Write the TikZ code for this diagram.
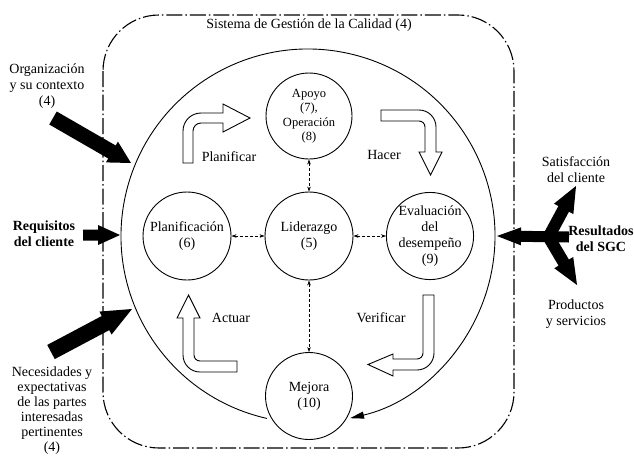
\documentclass[tikz,border=0pt]{standalone}
\usepackage{fontspec}
\setmainfont{Liberation Serif}
\usetikzlibrary{calc,arrows.meta}
\newcommand\blkarrow[5]{%
  \coordinate (hb) at ($(#2)!#5!(#1)$);
  \fill ($(#1)!#3!90:(#2)$) -- ($(hb)!#3!90:(#2)$) -- ($(hb)!#4!90:(#2)$) -- (#2)
     -- ($(hb)!#4!-90:(#2)$) -- ($(hb)!#3!-90:(#2)$) -- ($(#1)!#3!-90:(#2)$) -- cycle;}
\begin{document}
\begin{tikzpicture}[x=1pt,y=-1pt,
  lbl/.style={font=\fontsize{14}{16}\selectfont, align=center, inner sep=0pt},
  blbl/.style={font=\fontsize{14}{16}\selectfont\bfseries, align=center, inner sep=0pt},
  circ/.style={circle, draw, line width=0.9pt, minimum size=88pt, inner sep=0pt, align=center, font=\fontsize{14}{16}\selectfont},
  dlink/.style={line width=0.6pt, dash pattern=on 3pt off 2pt, {Stealth[length=5pt,width=3.5pt]}-{Stealth[length=5pt,width=3.5pt]}},
  hollow/.style={draw, fill=white, line width=0.9pt, line join=miter},
  dashdot/.style={line width=1.1pt, dash pattern=on 16pt off 3pt on 1.5pt off 3pt}]
\fill[white] (0,0) rectangle (634,458);
\useasboundingbox (0,0) rectangle (634,458);

% outer system boundary
\draw[dashdot, rounded corners=56pt] (103,15) rectangle (514,448);
\node[lbl] (sgc) at (309,25) {Sistema de Gestión de la Calidad (4)};

% circles
\node[circ] (plan) at (187,236) {Planificación\\(6)};
\node[circ] (lider) at (309,236) {Liderazgo\\(5)};
\node[circ, minimum size=87pt] (eval) at (430,236) {Evaluación\\del\\desempeño\\(9)};
\node[circ, minimum size=86pt, font=\fontsize{12.5}{14.5}\selectfont] (apoyo) at (309,116) {Apoyo\\(7),\\Operación\\(8)};
\node[circ, minimum size=87pt] (mejora) at (309,396) {Mejora\\(10)};

\draw[dlink] (plan) -- (lider);
\draw[dlink] (lider) -- (eval);
\draw[dlink] (apoyo) -- (lider);
\draw[dlink] (lider) -- (mejora);

% big cycle arc
\coordinate (C) at (308,236);
\draw[line width=0.9pt, -{Triangle[length=14pt,width=7pt]}] ([shift={(102.7:187)}]C) arc[start angle=102.7, end angle=437, radius=187];

% hollow bent arrows
\draw[hollow] (183,163) -- (183,131) .. controls (183,121) and (191,113) .. (201,113) -- (223,113) -- (223,104) -- (250,118) -- (223,132) -- (223,123) -- (201,123) .. controls (196.6,123) and (193,126.6) .. (193,131) -- (193,163) -- cycle;
\draw[hollow] (381,110) -- (419,110) .. controls (428.4,110) and (436,117.6) .. (436,127) -- (436,152) -- (442,152) -- (430.5,175) -- (419,152) -- (425,152) -- (425,127) .. controls (425,123.7) and (422.3,121) .. (419,121) -- (381,121) -- cycle;
\draw[hollow] (423,295) -- (434,295) -- (434,353) .. controls (434,362.4) and (426.4,370) .. (417,370) -- (393,370) -- (393,376) -- (368,364.5) -- (393,354) -- (393,359) -- (417,359) .. controls (420.3,359) and (423,356.3) .. (423,353) -- cycle;
\draw[hollow] (237,361) -- (200,361) .. controls (196.7,361) and (194,358.3) .. (194,355) -- (194,318) -- (200,318) -- (188.5,295) -- (177,318) -- (183,318) -- (183,355) .. controls (183,364.4) and (190.6,372) .. (200,372) -- (237,372) -- cycle;

\node[lbl] (tplan) at (229,157) {Planificar};
\node[lbl] (thacer) at (384,155) {Hacer};
\node[lbl] (tact) at (231,318) {Actuar};
\node[lbl] (tver) at (381,318) {Verificar};

% inputs
\coordinate (o1) at (53,118); \coordinate (o2) at (131,163);
\blkarrow{o1}{o2}{7.5pt}{12pt}{22pt}
\coordinate (q1) at (83,235); \coordinate (q2) at (120,235);
\blkarrow{q1}{q2}{5.5pt}{10pt}{22pt}
\coordinate (n1) at (51,352); \coordinate (n2) at (132,309);
\blkarrow{n1}{n2}{8pt}{13pt}{30pt}

\node[lbl] (torg) at (47,86) {Organización\\y su contexto\\(4)};
\node[blbl] (treq) at (44,233.5) {Requisitos\\del cliente};
\node[lbl, font=\fontsize{14}{15}\selectfont] (tnec) at (52,411) {Necesidades y\\expectativas\\de las partes\\interesadas\\pertinentes\\(4)};

% outputs
\coordinate (r1) at (569,237); \coordinate (r2) at (497,236);
\blkarrow{r1}{r2}{5.5pt}{9pt}{24pt}
\coordinate (u1) at (548,238); \coordinate (u2) at (576,186);
\blkarrow{u1}{u2}{6pt}{11pt}{26pt}
\coordinate (d1) at (548,236); \coordinate (d2) at (577,285);
\blkarrow{d1}{d2}{6pt}{11pt}{26pt}

\node[lbl] (tsat) at (576,170) {Satisfacción\\del cliente};
\node[blbl] (tres) at (601,239) {Resultados\\del SGC};
\node[lbl] (tprod) at (576,314) {Productos\\y servicios};
\end{tikzpicture}
\end{document}
